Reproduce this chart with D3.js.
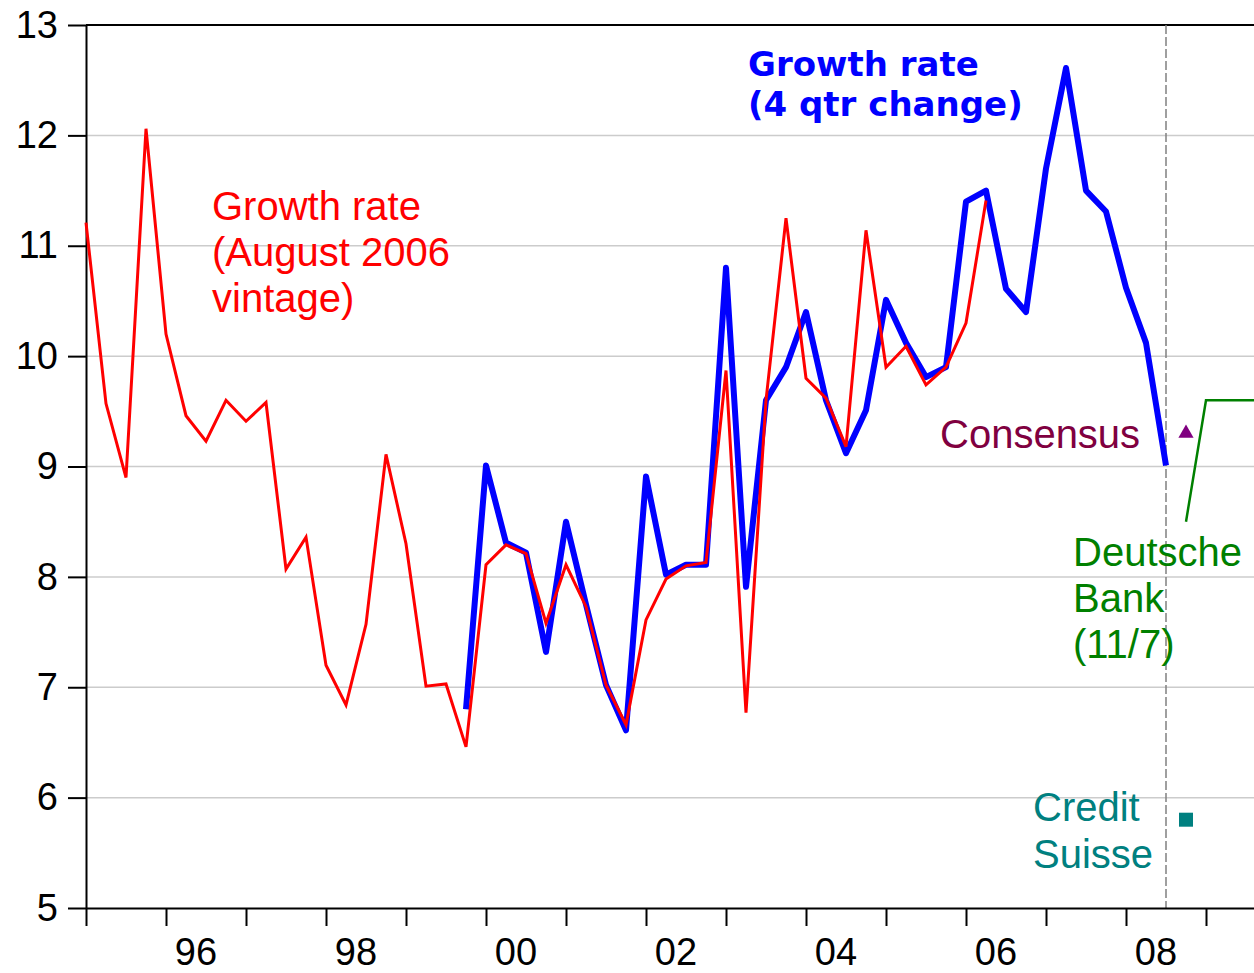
<!DOCTYPE html>
<html>
<head>
<meta charset="utf-8">
<script src="https://cdnjs.cloudflare.com/ajax/libs/d3/7.8.5/d3.min.js"></script>
<style>
  html, body { margin: 0; padding: 0; background: #fff; overflow: hidden; }
  svg { display: block; }
</style>
</head>
<body>
<div id="chart"></div>
<script>
// quarterly growth rates
var redStart = 1995.0   // 1995Q1
var redValues = [11.21, 9.57, 8.90, 12.06, 10.20, 9.46, 9.23, 9.60, 9.41, 9.58,
                 8.07, 8.36, 7.20, 6.84, 7.57, 9.11, 8.30, 7.01, 7.03, 6.46,
                 8.11, 8.29, 8.21, 7.58, 8.11, 7.73, 7.02, 6.66, 7.61, 7.98,
                 8.10, 8.13, 9.87, 6.77, 9.60, 11.25, 9.80, 9.62, 9.18, 11.14,
                 9.90, 10.09, 9.74, 9.90, 10.30, 11.41]

var blueStart = 1999.75 // 1999Q4
var blueValues = [6.80, 9.01, 8.31, 8.22, 7.32, 8.50, 7.75, 7.02, 6.61, 8.91,
                  8.02, 8.11, 8.11, 10.80, 7.91, 9.60, 9.90, 10.40, 9.60, 9.12,
                  9.51, 10.51, 10.12, 9.81, 9.90, 11.40, 11.50, 10.61, 10.40, 11.70,
                  12.61, 11.50, 11.31, 10.62, 10.12, 9.01]

var dbStart = 2008.75   // 2008Q4
var dbValues = [8.5, 9.6, 9.6, 9.6, 9.6]

var consensus = { t: 2008.75, v: 9.3 }
var creditSuisse = { t: 2008.75, v: 5.8 }
var forecastLine = 2008.5

var yTicks = [5, 6, 7, 8, 9, 10, 11, 12, 13]
var yearTicks = [1995, 1996, 1997, 1998, 1999, 2000, 2001, 2002, 2003, 2004, 2005, 2006, 2007, 2008, 2009]
var yearLabels = ["96", "98", "00", "02", "04", "06", "08"]
var labelYears = [1996, 1998, 2000, 2002, 2004, 2006, 2008]

var width = 1254,
    height = 973

var svg = d3.select("#chart").append("svg")
    .attr("width", width)
    .attr("height", height)

var x = d3.scaleLinear().domain([1995, 2010]).range([86, 1286])
var y = d3.scaleLinear().domain([5, 13]).range([908, 25])

function toPoints(start, vals) {
  return vals.map(function(v, i) { return { t: start + i / 4, v: v } })
}

// gridlines
svg.append("g")
  .selectAll("line")
  .data(yTicks.slice(1, -1))
  .enter().append("line")
    .attr("x1", x(1995)).attr("x2", width)
    .attr("y1", d => y(d)).attr("y2", d => y(d))
    .attr("stroke", "#cccccc")
    .attr("stroke-width", 1.5)

// top border
svg.append("line")
  .attr("x1", x(1995)).attr("x2", width)
  .attr("y1", y(13)).attr("y2", y(13))
  .attr("stroke", "#000").attr("stroke-width", 2)

// forecast divider
svg.append("line")
  .attr("x1", x(forecastLine)).attr("x2", x(forecastLine))
  .attr("y1", y(13)).attr("y2", y(5))
  .attr("stroke", "#808080").attr("stroke-width", 1.5)
  .attr("stroke-dasharray", "9,3")

// y axis
var yAxis = svg.append("g")
  .attr("transform", "translate(" + x(1995) + ",0)")
  .call(d3.axisLeft(y).tickValues(yTicks).tickSize(18).tickSizeOuter(0).tickPadding(10))
yAxis.selectAll("text")
  .attr("fill", "#000")
  .style("font-family", "Liberation Sans, Arial, sans-serif")
  .style("font-size", "38px")
yAxis.selectAll("line, path").attr("stroke", "#000").attr("stroke-width", 2)

// x axis
var xAxis = svg.append("g")
  .attr("transform", "translate(0," + y(5) + ")")
  .call(d3.axisBottom(x).tickValues(yearTicks).tickSize(18).tickSizeOuter(0).tickFormat(""))
xAxis.selectAll("line, path").attr("stroke", "#000").attr("stroke-width", 2)

svg.append("g")
  .selectAll("text")
  .data(labelYears)
  .enter().append("text")
    .attr("x", d => x(d) + 30)
    .attr("y", 965)
    .attr("text-anchor", "middle")
    .style("font-family", "Liberation Sans, Arial, sans-serif")
    .style("font-size", "38px")
    .text((d, i) => yearLabels[i])

var line = d3.line().x(d => x(d.t)).y(d => y(d.v))

svg.append("path")
  .datum(toPoints(blueStart, blueValues))
  .attr("d", line)
  .attr("fill", "none")
  .attr("stroke", "#0000ff")
  .attr("stroke-width", 6)
  .attr("stroke-linejoin", "round")

svg.append("path")
  .datum(toPoints(redStart, redValues))
  .attr("d", line)
  .attr("fill", "none")
  .attr("stroke", "#ff0000")
  .attr("stroke-width", 3)

svg.append("path")
  .datum(toPoints(dbStart, dbValues))
  .attr("d", line)
  .attr("fill", "none")
  .attr("stroke", "#008000")
  .attr("stroke-width", 2.5)

// consensus marker
svg.append("path")
  .attr("d", d3.symbol().type(d3.symbolTriangle).size(100))
  .attr("transform", "translate(" + x(consensus.t) + "," + y(consensus.v) + ")")
  .attr("fill", "#800080")

// credit suisse marker
svg.append("rect")
  .attr("x", x(creditSuisse.t) - 7)
  .attr("y", y(creditSuisse.v) - 7)
  .attr("width", 14).attr("height", 14)
  .attr("fill", "#008080")

// annotations
function note(lines, x0, y0, dy, color, font, size, weight) {
  var t = svg.append("text")
    .attr("fill", color)
    .style("font-family", font)
    .style("font-size", size + "px")
    .style("font-weight", weight || "normal")
  lines.forEach(function(s, i) {
    t.append("tspan").attr("x", x0).attr("y", y0 + i * dy).text(s)
  })
}

var arial = "Liberation Sans, Arial, sans-serif"
note(["Growth rate", "(4 qtr change)"], 748, 76, 40, "#0000ff", "DejaVu Sans, Verdana, sans-serif", 34, "bold")
note(["Growth rate", "(August 2006", "vintage)"], 212, 220, 46, "#ff0000", arial, 40)
note(["Consensus"], 940, 448, 46, "#800040", arial, 40)
note(["Deutsche", "Bank", "(11/7)"], 1073, 566, 46, "#008000", arial, 40)
note(["Credit", "Suisse"], 1033, 821, 47, "#008080", arial, 40)
</script>
</body>
</html>
